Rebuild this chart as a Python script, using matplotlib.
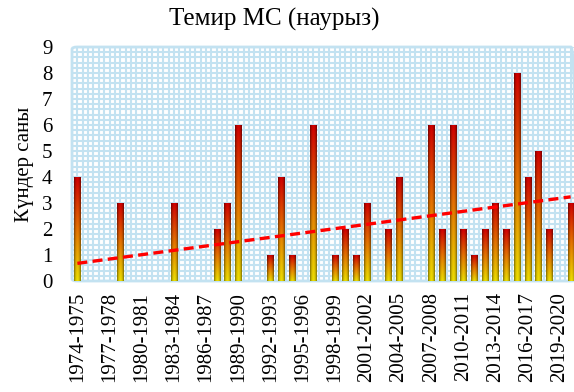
import matplotlib
matplotlib.use("Agg")
import matplotlib.pyplot as plt
import numpy as np
from matplotlib.patches import FancyBboxPatch
from matplotlib.ticker import MultipleLocator

plt.rcParams['font.family'] = ['Liberation Serif', 'DejaVu Serif']

# сезондар 1974-1975 ... 2020-2021
seasons = [f"{y}-{y + 1}" for y in range(1974, 2021)]
days = [4, 0, 0, 0, 3, 0, 0, 0, 0, 3,
        0, 0, 0, 2, 3, 6, 0, 0, 1, 4,
        1, 0, 6, 0, 1, 2, 1, 3, 0, 2,
        4, 0, 0, 6, 2, 6, 2, 1, 2, 3,
        2, 8, 4, 5, 2, 0, 3]
title = "Темир МС (наурыз)"
ylabel = "Күндер саны"

x = np.arange(len(seasons))
y = np.array(days, dtype=float)

fig = plt.figure(figsize=(5.74, 3.92), dpi=100)
ax = fig.add_axes([72 / 574, 1 - 281 / 392, 504 / 574, 234 / 392])

# фон: торлы үлгі
ax.set_facecolor('white')
ax.xaxis.set_minor_locator(MultipleLocator(0.5))
ax.yaxis.set_minor_locator(MultipleLocator(0.2))
ax.grid(which='both', color='#c3e2f1', linewidth=1.5)
ax.set_axisbelow(True)
for s in ax.spines.values():
    s.set_visible(False)
frame = FancyBboxPatch((0, 0), 1, 1, boxstyle="round,pad=0,rounding_size=0.01",
                       transform=ax.transAxes, fill=False, edgecolor='#c3e2f1',
                       linewidth=2, clip_on=False, zorder=1)
ax.add_patch(frame)

# градиентті бағандар
bars = ax.bar(x, y, width=0.58, color='none', edgecolor='none', zorder=2)
v = np.linspace(0, 1, 100)[:, None]          # 0 - асты, 1 - үсті
u = np.linspace(0, 1, 20)[None, :]
bottom_c = np.array([0.93, 0.87, 0.0])
mid_c = np.array([0.90, 0.45, 0.0])
top_c = np.array([0.82, 0.0, 0.0])
col = np.where(v[..., None] < 0.5,
               bottom_c + (mid_c - bottom_c) * (v[..., None] / 0.5),
               mid_c + (top_c - mid_c) * ((v[..., None] - 0.5) / 0.5))
shade = 1 - 0.45 * np.abs(2 * u - 1) ** 2
img = np.clip(col * shade[..., None], 0, 1)
for b in bars:
    h = b.get_height()
    if h <= 0:
        continue
    x0 = b.get_x()
    im = ax.imshow(img, extent=[x0, x0 + b.get_width(), 0, h], origin='lower',
                   aspect='auto', zorder=3, interpolation='bilinear')
    im.set_clip_path(b)

# тренд сызығы
k, c0 = np.polyfit(x, y, 1)
ax.plot(x, k * x + c0, color='#ff0000', linestyle=(0, (3, 1.6)),
        linewidth=2.4, zorder=4)

ax.set_xlim(-0.5, len(seasons) - 0.5)
ax.set_ylim(0, 9)
ax.set_yticks(range(0, 10))
ax.set_xticks(x[::3])
ax.set_xticklabels(seasons[::3], rotation=90)
ax.tick_params(axis='both', which='both', length=0, labelsize=15)
ax.tick_params(axis='y', pad=14)
ax.tick_params(axis='x', pad=8)
ax.set_ylabel(ylabel, fontsize=15, labelpad=6)
fig.text(274 / 574, 1 - 19 / 392, title, fontsize=18, ha='center', va='center')

fig.savefig("out.png", dpi=100)
